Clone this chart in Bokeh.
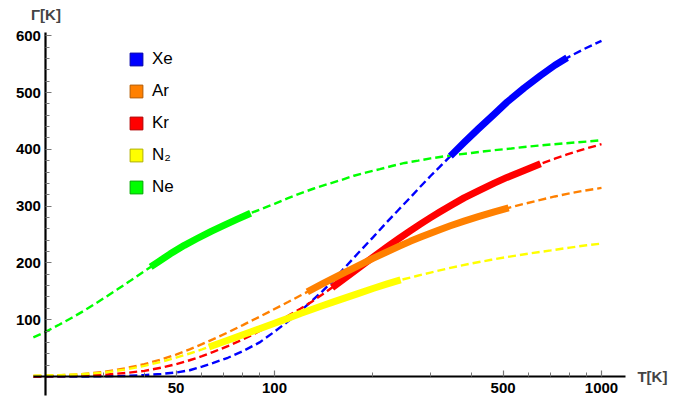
from bokeh.plotting import figure
from bokeh.models import FixedTicker, BasicTickFormatter, Legend, LegendItem, Label
from bokeh.embed import file_html
from bokeh.resources import INLINE

# ---------------- data ----------------
names = ["Xe", "Ar", "Kr", "N\u2082", "Ne"]
colors = ["#0000ff", "#ff8000", "#ff0000", "#ffff00", "#00ff00"]
edges = ["#0000a8", "#b35a00", "#b00000", "#b0b000", "#00a800"]

xe_T = [18.3, 20, 25, 30, 35, 40, 45, 50, 55, 60, 65, 72, 80, 90, 100, 110, 120, 130, 140, 150,
        163, 180, 200, 220, 240, 260, 280, 300, 320, 345, 380, 420, 470, 514, 580, 651, 720, 785, 880, 1000]
xe_G = [0, 0, 0, 0.3, 1, 2.5, 4.5, 7, 11, 17.5, 24, 33, 44.5, 60, 79, 97, 115, 133, 150, 167,
        190, 217, 245, 271, 294, 315, 335, 353, 369, 388, 412, 436, 462, 483, 508, 530, 548, 561, 576, 591]
xe_solid = (345, 785)

ar_T = [18.3, 20, 25, 30, 35, 40, 45, 50, 55, 60, 65, 72, 80, 84.5, 90, 100, 110, 120, 126, 140, 150,
        163, 180, 200, 220, 240, 260, 280, 300, 320, 345, 380, 420, 470, 520, 580, 651, 720, 785, 880, 1000]
ar_G = [0.8, 1.2, 3.5, 8, 14.5, 21.8, 30, 38.7, 47.8, 56.9, 65.8, 77.6, 90.5, 97.4, 105.2, 118.8, 131.1, 142.6, 149, 163, 172,
        182.5, 195, 208, 219, 229, 238, 245.5, 252.4, 258.5, 265.3, 273.5, 281.5, 290, 297, 304, 311, 317, 321.5, 327, 332]
ar_solid = (126, 520)

kr_T = [18.3, 20, 25, 30, 35, 40, 45, 50, 55, 60, 65, 72, 80, 84.5, 90, 100, 110, 120, 130, 140, 150,
        163, 180, 200, 220, 240, 260, 280, 300, 320, 345, 380, 420, 470, 514, 580, 651, 720, 785, 880, 1000]
kr_G = [0, 0.2, 1.1, 3.1, 6.1, 10, 15.5, 21.8, 28.6, 35.8, 43.3, 53.6, 65.3, 72, 80.2, 94, 106.7, 119.2, 131.8, 144.3, 156.6,
        171.9, 190.4, 210, 227.2, 242.8, 256.6, 268.8, 279.8, 289.6, 300.8, 314.5, 327, 340.5, 350.5, 362.7, 374.5, 383.5, 391, 400, 409]
kr_solid = (150, 651)

n2_T = [18.3, 20, 25, 30, 35, 40, 45, 50, 55, 60, 63, 72, 80, 84.5, 90, 100, 110, 120, 130, 140, 150,
        163, 180, 200, 220, 243, 270, 300, 340, 400, 460, 516, 600, 700, 800, 900, 1000]
n2_G = [1.5, 1.8, 3.5, 6.7, 12.2, 18.7, 25.8, 33.2, 40.5, 47.8, 52, 63.9, 73.5, 78.5, 84.2, 93.9, 102.4, 111, 118, 124.5, 130.5,
        137.5, 146, 155, 162.5, 170, 176.5, 183, 190.5, 199, 205.5, 210.5, 216.5, 222, 227, 231, 234]
n2_solid = (63, 243)

ne_T = [18.3, 20, 22, 24, 26, 28, 30, 33, 36, 40, 41.8, 44, 48, 53, 58, 64, 70, 77, 84.5, 93, 100,
        110, 120, 132, 145, 160, 175, 190, 210, 230, 250, 275, 300, 330, 360, 400, 440, 480, 530, 580,
        640, 700, 770, 850, 920, 1000]
ne_G = [69, 79, 91.5, 103.5, 115, 126.5, 137.5, 153, 167.5, 185.5, 193, 201.5, 216, 231, 243, 255.5, 266, 277, 287.5, 297, 304,
        314, 322.5, 331, 338.5, 346, 353.5, 359, 365, 371, 376, 380, 384, 387.5, 390.5, 393.5, 396.5, 399, 401.5, 404,
        406.5, 408.5, 410.5, 412.5, 414, 416]
ne_solid = (41.8, 84.5)

x_major = [50, 100, 500, 1000]
x_minor = [30, 40, 60, 70, 80, 90, 200, 300, 400, 600, 700, 800, 900]
y_major = [100, 200, 300, 400, 500, 600]
y_minor = [v for v in range(20, 600, 20) if v % 100 != 0]

series = [
    (xe_T, xe_G, xe_solid),
    (ar_T, ar_G, ar_solid),
    (kr_T, kr_G, kr_solid),
    (n2_T, n2_G, n2_solid),
    (ne_T, ne_G, ne_solid),
]

# ---------------- figure ----------------
p = figure(width=690, height=401, x_axis_type="log",
           x_range=(14.52, 1871.6), y_range=(-44.0, 662.0),
           output_backend="svg", toolbar_location=None, min_border=0)
p.outline_line_color = None
p.xgrid.visible = False
p.ygrid.visible = False
p.background_fill_color = "white"
p.border_fill_color = "white"

# dashed full curves
for (T, G, _), c in zip(series, colors):
    p.line(T, G, line_color=c, line_width=2.4, line_dash="8 4")

# thick solid segments
order = [0, 2, 1, 3, 4]
for i in order:
    T, G, (lo, hi) = series[i]
    Ts = [t for t in T if lo <= t <= hi]
    Gs = [g for t, g in zip(T, G) if lo <= t <= hi]
    p.line(Ts, Gs, line_color=colors[i], line_width=7, line_cap="butt", line_join="round")

# axes at crossing positions
for ax in (p.xaxis[0], p.yaxis[0]):
    ax.axis_line_width = 2.2
    ax.axis_line_color = "black"
    ax.major_tick_in = 6
    ax.major_tick_out = 0
    ax.minor_tick_in = 4
    ax.minor_tick_out = 0
    ax.major_tick_line_color = "#777777"
    ax.minor_tick_line_color = "#777777"
    ax.major_tick_line_width = 1.2
    ax.minor_tick_line_width = 1
    ax.major_label_text_font = "Liberation Sans"
    ax.major_label_text_font_style = "bold"
    ax.major_label_text_font_size = "15px"
    ax.major_label_text_color = "black"
    ax.formatter = BasicTickFormatter()

p.xaxis[0].ticker = FixedTicker(ticks=x_major, minor_ticks=x_minor)
p.yaxis[0].ticker = FixedTicker(ticks=y_major, minor_ticks=y_minor)
p.xaxis[0].fixed_location = 0
p.yaxis[0].fixed_location = 20
p.xaxis[0].bounds = (18.3, 1183)
p.yaxis[0].bounds = (-33, 605)
p.xaxis[0].major_label_standoff = 6
p.yaxis[0].major_label_standoff = 5

p.add_layout(Label(x=20, y=637, text="\u0393[K]", text_align="center", text_baseline="middle",
                   text_font="Liberation Sans", text_font_style="bold", text_font_size="15px"))
p.add_layout(Label(x=1288, y=0, text="T[K]", text_align="left", text_baseline="middle",
                   text_font="Liberation Sans", text_font_style="bold", text_font_size="15px"))

# legend with square swatches
nan = float("nan")
items = []
for n, c, e in zip(names, colors, edges):
    r = p.quad(left=[nan], right=[nan], bottom=[nan], top=[nan], fill_color=c, line_color=e, line_width=1)
    items.append(LegendItem(label=n, renderers=[r]))
legend = Legend(items=items, location=(128, 204), orientation="vertical",
                glyph_width=16, glyph_height=16, label_height=16, spacing=12,
                padding=0, margin=0, label_standoff=8,
                border_line_color=None, background_fill_alpha=0,
                label_text_font="Liberation Sans", label_text_font_size="17px",
                label_text_color="black")
p.add_layout(legend)

open("out.html", "w").write(file_html(p, INLINE))
